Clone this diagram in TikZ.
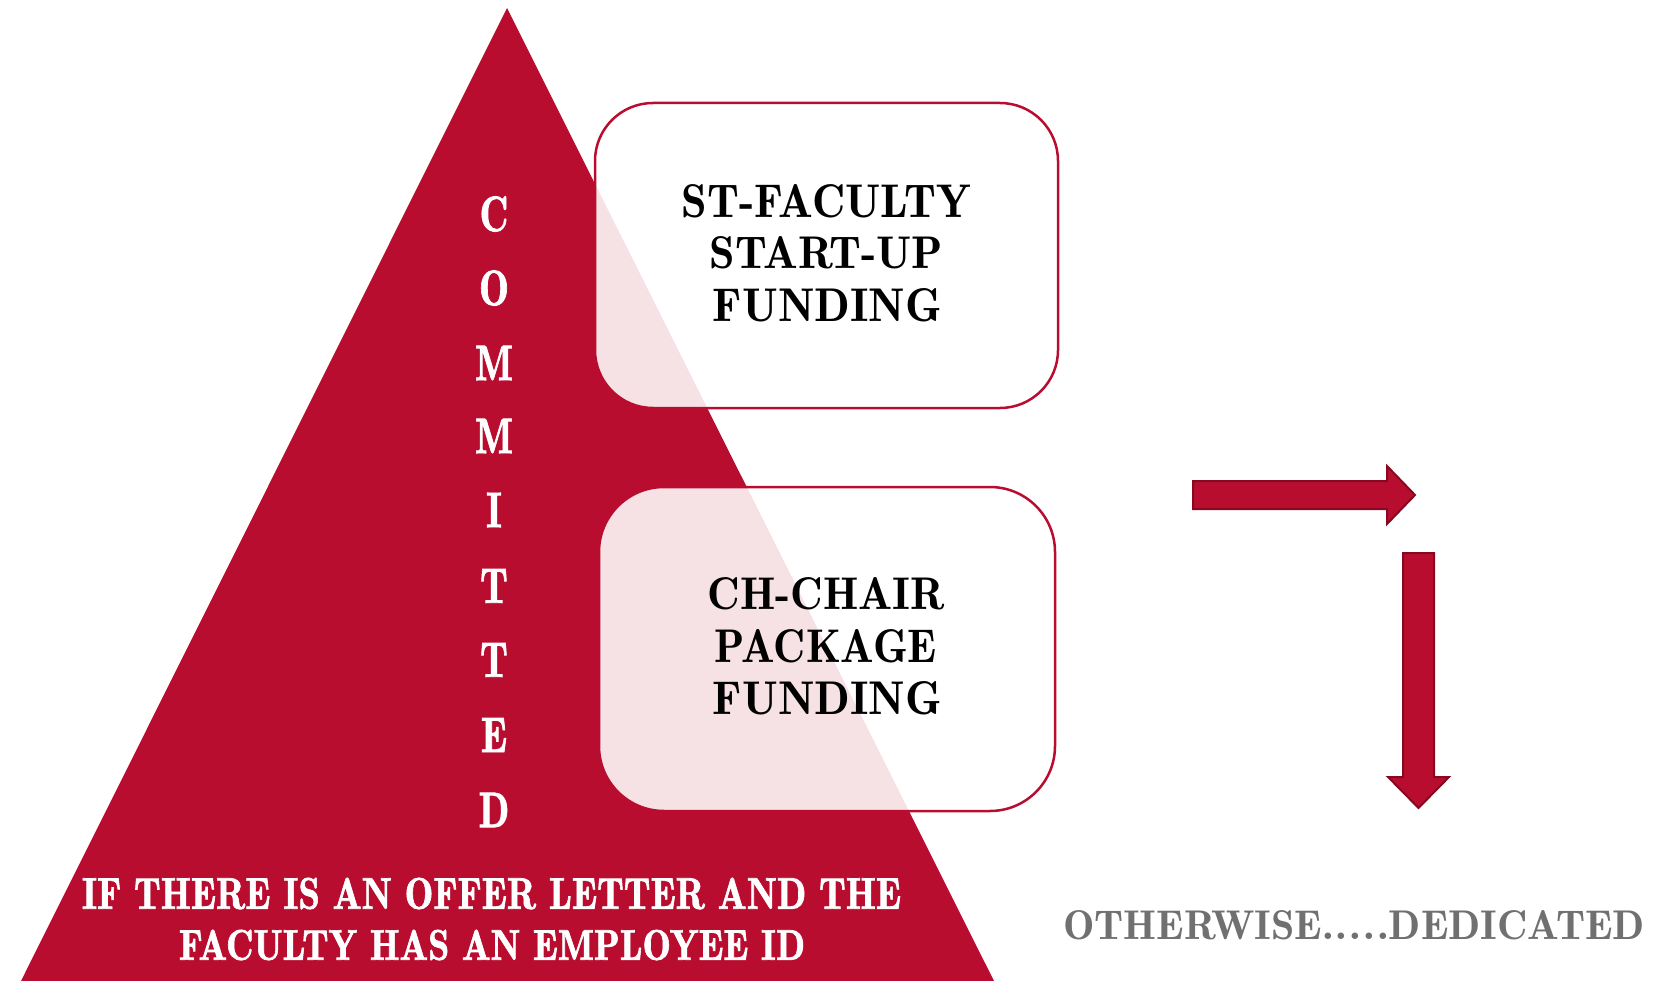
\documentclass[tikz,border=0pt]{standalone}
\usepackage{graphicx}
\usepackage{fontspec}
\newfontfamily\heavyfont[FakeBold=1.6]{lmromandemi10-regular.otf}
\newfontfamily\demifont{lmromandemi10-regular.otf}
\definecolor{cred}{RGB}{185,13,48}
\definecolor{cdark}{RGB}{135,8,33}
\definecolor{cgray}{RGB}{112,112,112}
\newcommand{\fitbox}[3]{\resizebox{#1pt}{#2pt}{#3}}
\newcommand{\bigletter}[1]{\scalebox{0.8}[1]{\fontsize{50}{50}\heavyfont #1}}
\tikzset{
  boxst/.style={draw=cred, line width=2.5pt, fill=white, fill opacity=0.88, rounded corners=#1},
  arrowst/.style={fill=cred, draw=cdark, line width=2pt, line join=miter},
  letter/.style={text=white, inner sep=0pt},
  boxtext/.style={text=black, inner sep=0pt, font=\demifont},
  basetext/.style={text=white, inner sep=0pt, font=\heavyfont},
  othertext/.style={text=cgray, inner sep=0pt, font=\demifont}
}
\begin{document}
\begin{tikzpicture}[x=1pt,y=-1pt]
\useasboundingbox (0,0) rectangle (1670,981);
% triangle
\fill[cred] (507,8) -- (21,981) -- (994,981) -- cycle;
% boxes
\draw[boxst=58pt] (595,103) rectangle (1058,408);
\draw[boxst=65pt] (599,487) rectangle (1055,811);
% box texts
\node[boxtext] (b1a) at (826.5,201.5) {\fitbox{289}{33}{ST-FACULTY}};
\node[boxtext] (b1b) at (826.5,253) {\fitbox{233}{32}{START-UP}};
\node[boxtext] (b1c) at (827.5,305.5) {\fitbox{229}{33}{FUNDING}};
\node[boxtext] (b2a) at (826.5,594) {\fitbox{237}{32}{CH-CHAIR}};
\node[boxtext] (b2b) at (826,646.5) {\fitbox{222}{33}{PACKAGE}};
\node[boxtext] (b2c) at (827.5,698.5) {\fitbox{229}{33}{FUNDING}};
% COMMITTED
\node[letter] (l1) at (494,214) {\bigletter{C}};
\node[letter] (l2) at (494,288) {\bigletter{O}};
\node[letter] (l3) at (494,363) {\bigletter{M}};
\node[letter] (l4) at (494,436) {\bigletter{M}};
\node[letter] (l5) at (494,510) {\bigletter{I}};
\node[letter] (l6) at (494,586) {\bigletter{T}};
\node[letter] (l7) at (494,660) {\bigletter{T}};
\node[letter] (l8) at (494,735) {\bigletter{E}};
\node[letter] (l9) at (494,810) {\bigletter{D}};
% base text
\node[basetext] (t1) at (491.5,893.5) {\fitbox{819}{31}{IF THERE IS AN OFFER LETTER AND THE}};
\node[basetext] (t2) at (492,945) {\fitbox{626}{30}{FACULTY HAS AN EMPLOYEE ID}};
% arrows
\draw[arrowst] (1193,481) -- (1387,481) -- (1387,466) -- (1415,495) -- (1387,524) -- (1387,509) -- (1193,509) -- cycle;
\draw[arrowst] (1403,553) -- (1434,553) -- (1434,777) -- (1449,777) -- (1418.5,808) -- (1388,777) -- (1403,777) -- cycle;
% otherwise
\node[othertext] (ot) at (1354,925) {\fitbox{582}{29}{OTHERWISE.\kern0.5pt.\kern0.5pt.\kern0.5pt.\kern0.5pt.DEDICATED}};
\end{tikzpicture}
\end{document}
